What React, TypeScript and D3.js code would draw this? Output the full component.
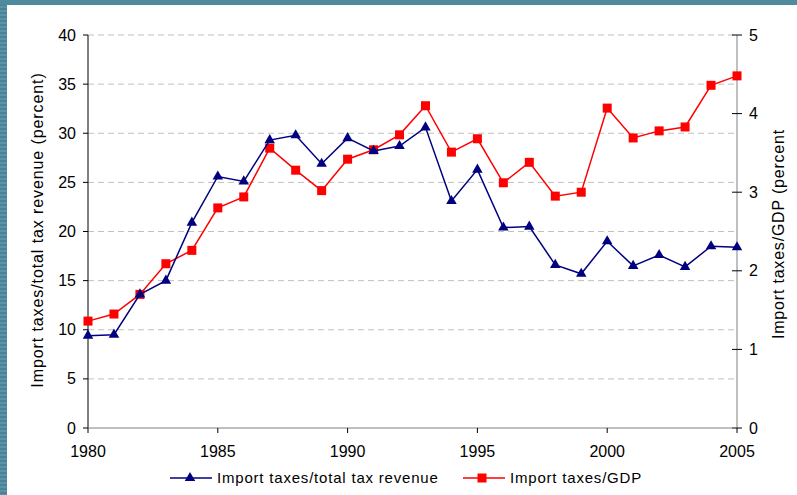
import React from "react";
import * as d3 from "d3";

// years on the x axis
const years = d3.range(1980, 2006);

// import taxes as share of total tax revenue (percent), left axis
const shareOfRevenue = [
  9.4, 9.5, 13.6, 15.0, 20.9, 25.6, 25.1, 29.3, 29.8, 26.9, 29.5, 28.2, 28.7,
  30.6, 23.1, 26.3, 20.4, 20.5, 16.6, 15.7, 19.0, 16.5, 17.6, 16.4, 18.5, 18.4,
];

// import taxes as share of GDP (percent), right axis
const shareOfGdp = [
  1.36, 1.45, 1.7, 2.09, 2.26, 2.8, 2.94, 3.56, 3.28, 3.02, 3.42, 3.54, 3.73,
  4.1, 3.51, 3.68, 3.12, 3.38, 2.95, 3.0, 4.07, 3.69, 3.78, 3.83, 4.36, 4.48,
];

const leftTicks = [0, 5, 10, 15, 20, 25, 30, 35, 40];
const rightTicks = [0, 1, 2, 3, 4, 5];
const yearTicks = [1980, 1985, 1990, 1995, 2000, 2005];

const W = 797;
const H = 495;
const font = "'Liberation Sans', Arial, sans-serif";
const navy = "#000080";
const red = "#ff0000";

const App = () => {
  const margin = { top: 35, right: 60, bottom: 67, left: 88 };

  const x = d3
    .scaleLinear()
    .domain([1980, 2005])
    .range([margin.left, W - margin.right]);
  const yLeft = d3
    .scaleLinear()
    .domain([0, 40])
    .range([H - margin.bottom, margin.top]);
  const yRight = d3
    .scaleLinear()
    .domain([0, 5])
    .range([H - margin.bottom, margin.top]);

  const blueLine = d3
    .line<number>()
    .x((d, i) => x(years[i]))
    .y((d) => yLeft(d));
  const redLine = d3
    .line<number>()
    .x((d, i) => x(years[i]))
    .y((d) => yRight(d));

  const tri = d3.symbol(d3.symbolTriangle, 48)();
  const x0 = x.range()[0];
  const x1 = x.range()[1];
  const yBase = yLeft(0);

  return (
    <div style={{ position: "fixed", left: 0, top: 0 }}>
      <svg width={W} height={H} style={{ display: "block" }}>
        <defs>
          {/* striped frame like the slide border */}
          <pattern id="stripes" width="8" height="4" patternUnits="userSpaceOnUse">
            <rect width="8" height="4" fill="#5a93a7" />
            <rect width="8" height="2" fill="#4a8397" />
          </pattern>
        </defs>
        <rect width={W} height={H} fill="#ffffff" />
        <rect x={0} y={0} width={7} height={H} fill="url(#stripes)" />
        <rect x={0} y={0} width={W} height={5} fill="#4f8a9f" />

        {/* dashed grid */}
        {leftTicks
          .filter((t) => t > 0)
          .map((t) => (
            <line
              key={"g" + t}
              x1={x0}
              x2={x1}
              y1={yLeft(t)}
              y2={yLeft(t)}
              stroke="#c0c0c0"
              strokeDasharray="6,4"
            />
          ))}

        {/* left axis */}
        <line x1={x0} x2={x0} y1={yLeft(40)} y2={yBase} stroke="#000" />
        {leftTicks.map((t) => (
          <g key={"l" + t}>
            <line x1={x0 - 5} x2={x0} y1={yLeft(t)} y2={yLeft(t)} stroke="#000" />
            <text
              x={x0 - 12}
              y={yLeft(t)}
              dy="0.35em"
              textAnchor="end"
              fontFamily={font}
              fontSize={16}
            >
              {t}
            </text>
          </g>
        ))}

        {/* right axis */}
        <line x1={x1} x2={x1} y1={yRight(5)} y2={yBase} stroke="#808080" />
        {rightTicks.map((t) => (
          <g key={"r" + t}>
            <line x1={x1 - 5} x2={x1 + 5} y1={yRight(t)} y2={yRight(t)} stroke="#000" />
            <text
              x={x1 + 12}
              y={yRight(t)}
              dy="0.35em"
              textAnchor="start"
              fontFamily={font}
              fontSize={16}
            >
              {t}
            </text>
          </g>
        ))}

        {/* x axis */}
        <line x1={x0} x2={x1} y1={yBase} y2={yBase} stroke="#808080" />
        {yearTicks.map((t) => (
          <g key={"x" + t}>
            <line x1={x(t)} x2={x(t)} y1={yBase} y2={yBase + 5} stroke="#000" />
            <text
              x={x(t)}
              y={yBase + 29}
              textAnchor="middle"
              fontFamily={font}
              fontSize={16}
            >
              {t}
            </text>
          </g>
        ))}

        {/* axis titles */}
        <text
          transform={`translate(43,230) rotate(-90)`}
          textAnchor="middle"
          fontFamily={font}
          fontSize={16}
          letterSpacing={0.9}
        >
          Import taxes/total tax revenue (percent)
        </text>
        <text
          transform={`translate(784,234) rotate(-90)`}
          textAnchor="middle"
          fontFamily={font}
          fontSize={16}
          letterSpacing={0.8}
        >
          Import taxes/GDP (percent
        </text>

        {/* series */}
        <path d={redLine(shareOfGdp) ?? ""} fill="none" stroke={red} strokeWidth={1.5} />
        {shareOfGdp.map((v, i) => (
          <rect
            key={"s" + i}
            x={x(years[i]) - 4.5}
            y={yRight(v) - 4.5}
            width={9}
            height={9}
            fill={red}
          />
        ))}
        <path d={blueLine(shareOfRevenue) ?? ""} fill="none" stroke={navy} strokeWidth={1.5} />
        {shareOfRevenue.map((v, i) => (
          <path
            key={"t" + i}
            d={tri ?? ""}
            transform={`translate(${x(years[i])},${yLeft(v)})`}
            fill={navy}
          />
        ))}

        {/* legend */}
        <g transform="translate(170,478)">
          <line x1={0} x2={42} y1={0} y2={0} stroke={navy} strokeWidth={1.5} />
          <path d={tri ?? ""} transform="translate(20,0)" fill={navy} />
          <text x={47} y={0} dy="0.35em" fontFamily={font} fontSize={15} letterSpacing={0.8}>
            Import taxes/total tax revenue
          </text>
        </g>
        <g transform="translate(463,478)">
          <line x1={0} x2={42} y1={0} y2={0} stroke={red} strokeWidth={1.5} />
          <rect x={14.5} y={-4.5} width={9} height={9} fill={red} />
          <text x={47} y={0} dy="0.35em" fontFamily={font} fontSize={15} letterSpacing={0.8}>
            Import taxes/GDP
          </text>
        </g>
      </svg>
    </div>
  );
};

export default App;
